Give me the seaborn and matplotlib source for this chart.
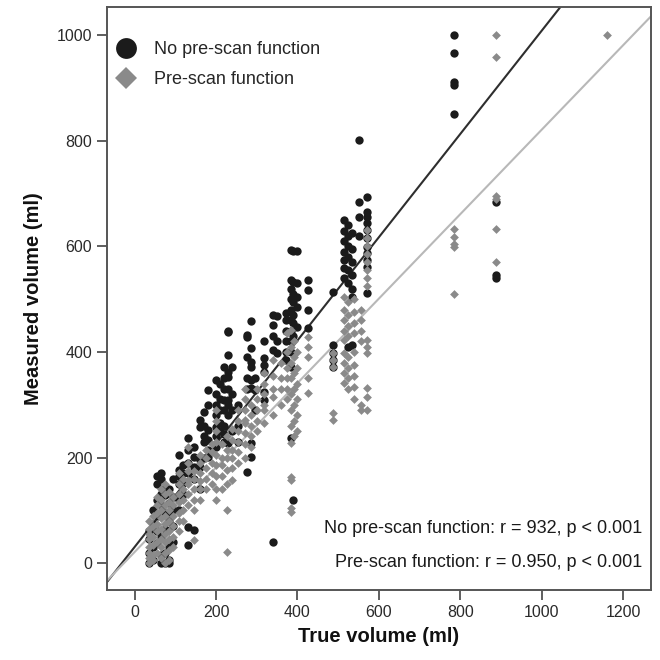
import matplotlib
matplotlib.use("Agg")
import matplotlib.pyplot as plt
from matplotlib.lines import Line2D
import seaborn as sns
import pandas as pd

# ---- data (true volume -> measured volumes) ----
NO_PRESCAN = {
    35: [0, 20, 45, 60],
    45: [5, 30, 75, 100],
    55: [38, 60, 90, 120, 150, 165],
    65: [0, 15, 50, 110, 130, 160, 170],
    75: [0, 19, 65, 95, 129, 142],
    85: [0, 5, 30, 80, 95, 114, 140],
    95: [40, 70, 100, 125, 160],
    110: [100, 120, 150, 165, 176, 205],
    120: [130, 151, 170, 185],
    130: [34, 68, 170, 190, 215, 237],
    145: [62, 160, 182, 201, 220],
    160: [140, 182, 195, 258, 271],
    170: [200, 230, 240, 260, 286],
    180: [201, 214, 233, 252, 300, 328],
    200: [220, 240, 258, 280, 300, 320, 347],
    210: [250, 265, 290, 310, 340],
    220: [230, 245, 260, 290, 309, 330, 350, 371],
    230: [227, 280, 300, 309, 330, 352, 362, 394, 438, 440],
    240: [250, 290, 320, 371],
    255: [229, 260, 300],
    275: [172, 330, 350, 390, 428, 432],
    285: [201, 227, 331, 347, 371, 381, 407, 458],
    295: [290, 328, 350],
    318: [309, 324, 362, 375, 388, 420],
    340: [40, 403, 430, 451, 470],
    350: [398, 420, 468],
    372: [384, 400, 420, 440, 460, 473],
    385: [237, 371, 400, 420, 440, 460, 480, 500, 520, 536, 593],
    390: [119, 430, 455, 470, 495, 510, 532, 591],
    400: [447, 485, 505, 530, 592],
    425: [445, 479, 517, 536],
    487: [371, 385, 398, 413, 513],
    515: [540, 560, 575, 590, 610, 630, 650],
    525: [409, 530, 555, 580, 600, 620, 640],
    535: [413, 504, 520, 545, 570, 595, 625],
    551: [620, 655, 684, 801],
    570: [511, 561, 574, 587, 598, 616, 631, 644, 655, 665, 693],
    785: [850, 906, 912, 966, 1000],
    888: [540, 545, 685],
}

PRESCAN = {
    35: [0, 10, 20, 30, 45, 55, 65, 80],
    45: [5, 15, 35, 50, 70, 90],
    55: [20, 40, 60, 75, 95, 110, 125],
    65: [10, 30, 45, 65, 85, 100, 120, 140],
    75: [0, 20, 40, 55, 75, 90, 110, 130, 150],
    85: [5, 25, 45, 60, 80, 100, 115, 135],
    95: [30, 50, 70, 90, 110, 125],
    110: [60, 80, 95, 115, 130, 150, 170],
    120: [80, 100, 120, 140, 160],
    130: [110, 130, 150, 157, 175, 190, 220],
    145: [44, 100, 120, 140, 160, 175],
    160: [120, 140, 155, 170, 190, 205],
    175: [140, 160, 180, 200, 215],
    190: [150, 170, 190, 210, 225],
    200: [120, 140, 165, 185, 205, 230, 250, 270, 290],
    215: [140, 165, 185, 200, 225],
    228: [21, 100, 150, 176, 200, 215, 240],
    240: [157, 180, 200, 215, 233, 255],
    255: [190, 210, 230, 250, 270, 290],
    270: [200, 225, 246, 265, 271, 290, 310, 330],
    285: [220, 240, 260, 280, 300],
    300: [250, 270, 290, 310, 330],
    318: [265, 290, 300, 320, 340, 360],
    340: [280, 314, 330, 355, 384],
    360: [300, 330, 350, 380],
    375: [310, 330, 350, 370, 400, 435],
    385: [97, 104, 157, 163, 227, 260, 290, 320, 350, 380, 410, 441],
    392: [240, 270, 300, 330, 360, 390, 420],
    400: [250, 280, 310, 340, 370, 400],
    425: [322, 350, 390, 410, 428],
    487: [271, 284, 371, 384, 398],
    515: [341, 360, 380, 398, 422, 440, 460, 480, 504],
    525: [330, 350, 370, 390, 430, 450, 470, 495],
    540: [310, 333, 355, 375, 400, 435, 455, 475, 500],
    555: [290, 300, 420, 440, 460, 480],
    570: [290, 314, 331, 398, 410, 422, 525, 540, 555, 570, 585, 600, 615, 631],
    785: [509, 598, 605, 618, 632],
    888: [570, 632, 690, 695, 958, 1000],
    1160: [1000],
}

GROUPS = ["No pre-scan function", "Pre-scan function"]
FIT_SLOPE = [0.978, 0.800]
FIT_INTERCEPT = [30.5, 21.0]
STATS_TEXT = ["No pre-scan function: r = 932, p < 0.001",
              "Pre-scan function: r = 0.950, p < 0.001"]
X_TICKS = [0, 200, 400, 600, 800, 1000, 1200]
Y_TICKS = [0, 200, 400, 600, 800, 1000]

COLORS = {GROUPS[0]: "#1b1b1b", GROUPS[1]: "#8a8a8a"}
LINE_COLORS = ["#2e2e2e", "#b8b8b8"]

rows = []
for grp, d in zip(GROUPS, [NO_PRESCAN, PRESCAN]):
    for xv, ys in d.items():
        for yv in ys:
            rows.append({"true": xv, "measured": yv, "group": grp})
df = pd.DataFrame(rows)

sns.set_theme(style="white")
plt.rcParams["font.family"] = ["Liberation Sans", "DejaVu Sans"]

fig = plt.figure(figsize=(6.6, 6.6), dpi=100)
ax = fig.add_axes([0.162, 0.106, 0.824, 0.883])

sns.scatterplot(data=df[df.group == GROUPS[0]], x="true", y="measured",
                color=COLORS[GROUPS[0]], marker="o", s=36, linewidth=0,
                ax=ax, legend=False, zorder=3)
sns.scatterplot(data=df[df.group == GROUPS[1]], x="true", y="measured",
                color=COLORS[GROUPS[1]], marker="D", s=20, linewidth=0,
                ax=ax, legend=False, zorder=3)

for m, b, c in zip(FIT_SLOPE, FIT_INTERCEPT, LINE_COLORS):
    ax.axline((0, b), slope=m, color=c, lw=1.5, zorder=2)

ax.set_xlim(-68, 1268)
ax.set_ylim(-51, 1053)
ax.set_xticks(X_TICKS)
ax.set_yticks(Y_TICKS)
ax.tick_params(axis="both", which="both", direction="out", length=7,
               width=1.1, color="#333333", labelsize=11.5, labelcolor="#2a2a2a",
               bottom=True, left=True, top=False, right=False, pad=3.5)
for sp in ax.spines.values():
    sp.set_color("#555555")
    sp.set_linewidth(1.4)

ax.set_xlabel("True volume (ml)", fontsize=14.5, fontweight="bold", color="#111111", labelpad=5)
ax.set_ylabel("Measured volume (ml)", fontsize=14.5, fontweight="bold", color="#111111", labelpad=10)

handles = [
    Line2D([], [], marker="o", linestyle="none", markersize=15,
           markerfacecolor=COLORS[GROUPS[0]], markeredgewidth=0),
    Line2D([], [], marker="D", linestyle="none", markersize=11,
           markerfacecolor=COLORS[GROUPS[1]], markeredgewidth=0),
]
ax.legend(handles, GROUPS, loc="upper left", bbox_to_anchor=(-0.012, 0.96),
          frameon=False, fontsize=13, handletextpad=0.75, labelspacing=0.7,
          borderaxespad=0.2, handlelength=1.6)

ax.text(0.985, 0.105, STATS_TEXT[0], transform=ax.transAxes, ha="right",
        va="center", fontsize=13, color="#1a1a1a")
ax.text(0.985, 0.048, STATS_TEXT[1], transform=ax.transAxes, ha="right",
        va="center", fontsize=13, color="#1a1a1a")

fig.savefig("out.png", dpi=100)
